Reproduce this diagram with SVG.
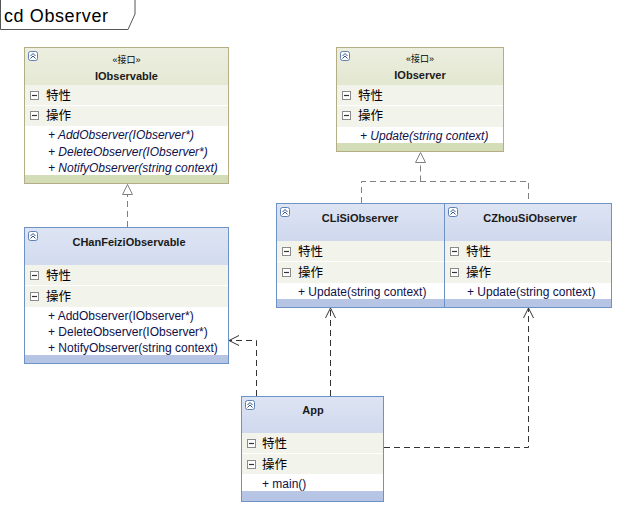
<svg xmlns="http://www.w3.org/2000/svg" width="618" height="507" viewBox="0 0 618 507">
<defs>
<linearGradient id="gI" x1="0" y1="0" x2="0" y2="1"><stop offset="0" stop-color="#eceedf"/><stop offset="1" stop-color="#d2dcb5"/></linearGradient>
<linearGradient id="gC" x1="0" y1="0" x2="0" y2="1"><stop offset="0" stop-color="#dde4f3"/><stop offset="1" stop-color="#b5c3e4"/></linearGradient>
<marker id="tri" markerWidth="13" markerHeight="13" refX="0" refY="5.5" orient="auto" markerUnits="userSpaceOnUse" viewBox="-12 0 13 13" overflow="visible"><path d="M0,5.5 L-10,0.5 L-10,10.5 Z" fill="#fff" stroke="#808080" stroke-width="1"/></marker>
<marker id="open" markerWidth="12" markerHeight="12" refX="0" refY="5" orient="auto" markerUnits="userSpaceOnUse" viewBox="-12 0 12 12" overflow="visible"><path d="M-10,0 L0,5 L-10,10" fill="none" stroke="#333" stroke-width="1"/></marker>
<g id="col"><rect x="0.5" y="0.5" width="9" height="9" rx="2" fill="#fff" stroke="#5d7fb6"/><path d="M2.5,5 L5,2.5 L7.5,5 M2.5,7.5 L5,5 L7.5,7.5" fill="none" stroke="#2b4f8f" stroke-width="1"/></g>
<g id="minus"><rect x="0.5" y="0.5" width="8" height="8" fill="#fff" stroke="#8a8a8a"/><path d="M2,4.5 L7,4.5" stroke="#333" stroke-width="1.2"/></g>
</defs>
<style>
text{font-family:"Liberation Sans",Arial,"Noto Sans CJK SC",sans-serif;fill:#000}
.ibox{fill:url(#gI);stroke:#b4ad86}
.cbox{fill:url(#gC);stroke:#6c92c6}
.row{fill:#f2f4ec}
.ops{fill:#fff}
.nm{font-size:11px;font-weight:bold;text-anchor:middle;fill:#1a1a1a}
.st{font-size:9px;text-anchor:middle}
.cj{font-size:12.5px}
.op{font-size:12px;fill:#10104a}
.it{font-style:italic}
.gen{fill:none;stroke:#808080;stroke-dasharray:6,4}
.dep{fill:none;stroke:#333;stroke-dasharray:6,4}
.sep{stroke:#fff;stroke-width:1}
</style>

<g id="frame">
<path d="M0.5,0 L0.5,29.5 L128,29.5 L135,14 L135,0" fill="#fff" stroke="#555"/>
<text x="4" y="22" font-size="18" textLength="104">cd Observer</text>
</g>

<g id="IObservable">
<rect class="ibox" x="24.5" y="47.5" width="204" height="136"/>
<rect class="row" x="25" y="85" width="203" height="20"/>
<rect class="row" x="25" y="106" width="203" height="20"/>
<line class="sep" x1="25" y1="105.5" x2="228" y2="105.5"/>
<rect class="ops" x="25" y="126" width="203" height="49"/>
<use href="#col" x="28" y="51"/>
<text class="st" x="126.5" y="63">«接口»</text>
<text class="nm" x="126.5" y="80">IObservable</text>
<use href="#minus" x="30" y="91"/><text class="cj" x="46" y="100">特性</text>
<use href="#minus" x="30" y="111"/><text class="cj" x="46" y="120">操作</text>
<text class="op it" x="48" y="139">+ AddObserver(IObserver*)</text>
<text class="op it" x="48" y="156">+ DeleteObserver(IObserver*)</text>
<text class="op it" x="48" y="172">+ NotifyObserver(string context)</text>
</g>

<g id="IObserver">
<rect class="ibox" x="336.5" y="47.5" width="167" height="104"/>
<rect class="row" x="337" y="85" width="166" height="20"/>
<rect class="row" x="337" y="106" width="166" height="21"/>
<line class="sep" x1="337" y1="105.5" x2="503" y2="105.5"/>
<rect class="ops" x="337" y="127" width="166" height="16"/>
<use href="#col" x="340" y="51"/>
<text class="st" x="420" y="62">«接口»</text>
<text class="nm" x="420" y="79">IObserver</text>
<use href="#minus" x="342" y="91"/><text class="cj" x="358" y="100">特性</text>
<use href="#minus" x="342" y="111"/><text class="cj" x="358" y="120">操作</text>
<text class="op it" x="360" y="140">+ Update(string context)</text>
</g>

<g id="CHanFeiziObservable">
<rect class="cbox" x="24.5" y="227.5" width="204" height="136"/>
<rect class="row" x="25" y="265" width="203" height="20"/>
<rect class="row" x="25" y="286" width="203" height="21"/>
<line class="sep" x1="25" y1="285.5" x2="228" y2="285.5"/>
<rect class="ops" x="25" y="307" width="203" height="48"/>
<use href="#col" x="28" y="231"/>
<text class="nm" x="129" y="246">CHanFeiziObservable</text>
<use href="#minus" x="30" y="271"/><text class="cj" x="46" y="280">特性</text>
<use href="#minus" x="30" y="292"/><text class="cj" x="46" y="301">操作</text>
<text class="op" x="48" y="320">+ AddObserver(IObserver*)</text>
<text class="op" x="48" y="336">+ DeleteObserver(IObserver*)</text>
<text class="op" x="48" y="352">+ NotifyObserver(string context)</text>
</g>

<g id="CLiSiObserver">
<rect class="cbox" x="276.5" y="203.5" width="168" height="104"/>
<rect class="row" x="277" y="241" width="167" height="20"/>
<rect class="row" x="277" y="262" width="167" height="21"/>
<line class="sep" x1="277" y1="261.5" x2="444" y2="261.5"/>
<rect class="ops" x="277" y="283" width="167" height="16"/>
<use href="#col" x="280" y="207"/>
<text class="nm" x="360" y="222">CLiSiObserver</text>
<use href="#minus" x="282" y="247"/><text class="cj" x="298" y="256">特性</text>
<use href="#minus" x="282" y="268"/><text class="cj" x="298" y="277">操作</text>
<text class="op" x="298" y="296">+ Update(string context)</text>
</g>

<g id="CZhouSiObserver">
<rect class="cbox" x="444.5" y="203.5" width="167" height="104"/>
<rect class="row" x="445" y="241" width="166" height="20"/>
<rect class="row" x="445" y="262" width="166" height="21"/>
<line class="sep" x1="445" y1="261.5" x2="611" y2="261.5"/>
<rect class="ops" x="445" y="283" width="166" height="16"/>
<use href="#col" x="448" y="207"/>
<text class="nm" x="530" y="222">CZhouSiObserver</text>
<use href="#minus" x="450" y="247"/><text class="cj" x="466" y="256">特性</text>
<use href="#minus" x="450" y="268"/><text class="cj" x="466" y="277">操作</text>
<text class="op" x="467" y="296">+ Update(string context)</text>
</g>

<g id="App">
<rect class="cbox" x="241.5" y="396.5" width="142" height="105"/>
<rect class="row" x="242" y="433" width="141" height="20"/>
<rect class="row" x="242" y="454" width="141" height="20"/>
<line class="sep" x1="242" y1="453.5" x2="383" y2="453.5"/>
<rect class="ops" x="242" y="474" width="141" height="17"/>
<use href="#col" x="245" y="400"/>
<text class="nm" x="313" y="414">App</text>
<use href="#minus" x="247" y="439"/><text class="cj" x="262" y="448">特性</text>
<use href="#minus" x="247" y="460"/><text class="cj" x="262" y="469">操作</text>
<text class="op" x="262" y="488">+ main()</text>
</g>

<g id="connectors">
<path class="gen" d="M127.5,227 L127.5,184.5" marker-end="url(#tri)"/>
<path class="gen" d="M361.5,203 L361.5,181.5 L528.5,181.5 L528.5,203"/>
<path class="gen" d="M420.5,181.5 L420.5,152.5" marker-end="url(#tri)"/>
<path class="dep" d="M256.5,396 L256.5,340.5 L229,340.5" marker-end="url(#open)"/>
<path class="dep" d="M330.5,396 L330.5,308" marker-end="url(#open)"/>
<path class="dep" d="M384,447.5 L528.5,447.5 L528.5,308" marker-end="url(#open)"/>
</g>
</svg>
